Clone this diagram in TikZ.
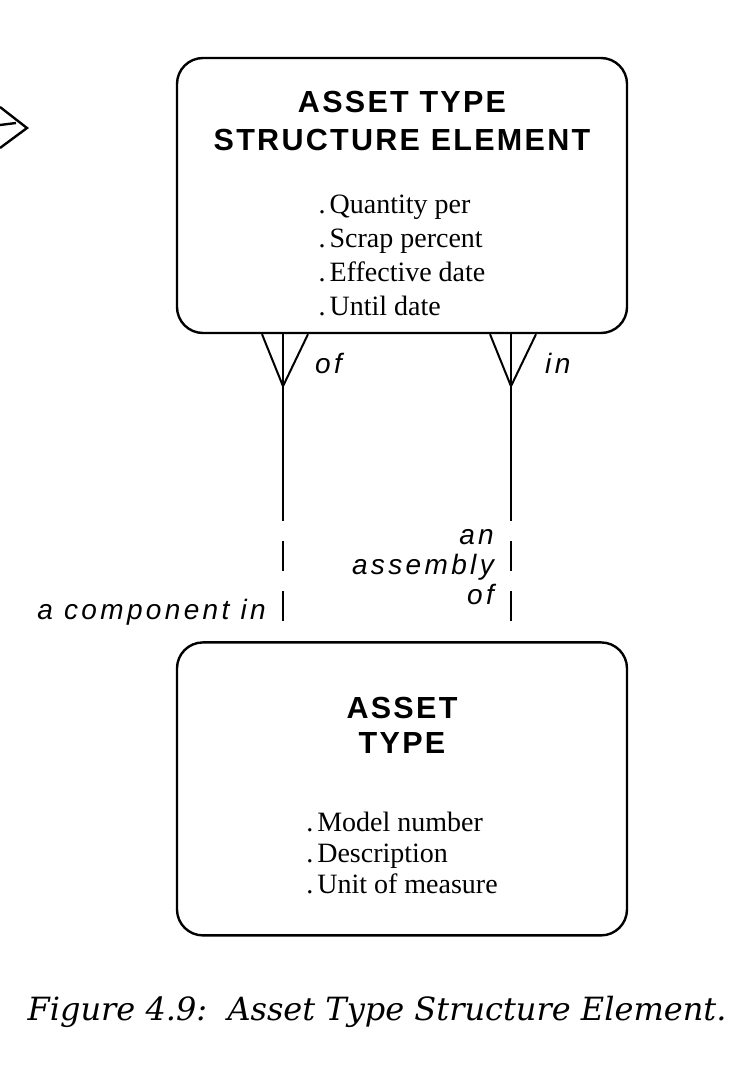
\documentclass[tikz,border=0pt]{standalone}
\usepackage{fontspec}
\setmainfont{Liberation Serif}
\newfontfamily\headfont[LetterSpace=7.5]{Liberation Sans}
\newfontfamily\lblfont[LetterSpace=12]{Liberation Sans}
\newfontfamily\capfont{DejaVu Serif}
\usetikzlibrary{positioning}

\newcommand{\attr}[1]{.\hspace{4pt}#1}
\newcommand{\headset}[1]{\headfont\bfseries\fontsize{30.5}{#1}\selectfont}
\newcommand{\listset}[1]{\rmfamily\mdseries\fontsize{28}{#1}\selectfont}

\begin{document}
\begin{tikzpicture}[
    x=1pt, y=-1pt,
    entity/.style={rectangle, draw, line width=2.4pt, rounded corners=26pt, minimum width=450pt, align=center, inner sep=0pt},
    rel/.style={draw, line width=2pt},
    opt/.style={rel, dash pattern=on 30pt off 20pt, dash phase=30pt},
    lbl/.style={font=\lblfont\itshape\fontsize{28}{30}\selectfont, inner sep=0pt}
  ]
  \useasboundingbox (0,0) rectangle (750,1070);

  \node[entity, minimum height=275pt, font={\headset{38}}] (ate) at (402,195.5) {\rule{0pt}{47pt}ASSET TYPE\\STRUCTURE ELEMENT\\[25pt]
    \listset{34}\begin{tabular}[t]{@{}l@{}}
      \attr{Quantity per}\\ \attr{Scrap percent}\\ \attr{Effective date}\\ \attr{Until date}
    \end{tabular}};
  \node[entity, minimum height=293pt, font={\headset{35}}, below=307pt of ate] (at) {\rule{0pt}{43pt}ASSET\\TYPE\\[43pt]
    \listset{31}\begin{tabular}[t]{@{}l@{}}
      \attr{Model number}\\ \attr{Description}\\ \attr{Unit of measure}
    \end{tabular}};

  \coordinate (ofTip) at ([xshift=-119pt, yshift=-52pt]ate.south);
  \coordinate (inTip) at ([xshift=109pt, yshift=-52pt]ate.south);
  \coordinate (ofFoot) at (ofTip |- ate.south);
  \coordinate (inFoot) at (inTip |- ate.south);
  \coordinate (ofMid) at ([yshift=-135pt]ofTip);
  \coordinate (inMid) at ([yshift=-135pt]inTip);

  \draw[rel] ([xshift=-21pt]ofFoot) -- (ofTip) -- ([xshift=25pt]ofFoot);
  \draw[rel] (ofFoot) -- (ofMid);
  \draw[opt] (ofMid) -- (ofMid |- at.north);
  \draw[rel] ([xshift=-21pt]inFoot) -- (inTip) -- ([xshift=25pt]inFoot);
  \draw[rel] (inFoot) -- (inMid);
  \draw[opt] (inMid) -- (inMid |- at.north);

  \node[lbl, anchor=base west] (ofLbl) at ([xshift=32pt, yshift=13pt]ofTip) {of};
  \node[lbl, anchor=base west] (inLbl) at ([xshift=34pt, yshift=13pt]inTip) {in};
  \coordinate (compPt) at (ofMid |- at.north);
  \node[lbl, anchor=base east] (compLbl) at ([xshift=-17pt, yshift=22pt]compPt) {a component in};
  \node[lbl, anchor=base east, align=right] (asmLbl) at ([xshift=-17pt, yshift=-83pt]inMid) {an\\assembly\\of};

  \coordinate (edgeTip) at (27,128);
  \draw[rel, line width=2.4pt] (0,107) -- (edgeTip) -- (0,148);
  \draw[rel, line width=2.4pt] (0,125) -- (16,123);

  \node[anchor=base, font=\capfont\itshape\fontsize{32}{34}\selectfont] (caption) at (377,1020) {Figure 4.9:\ \ Asset Type Structure Element.};

\end{tikzpicture}
\end{document}
